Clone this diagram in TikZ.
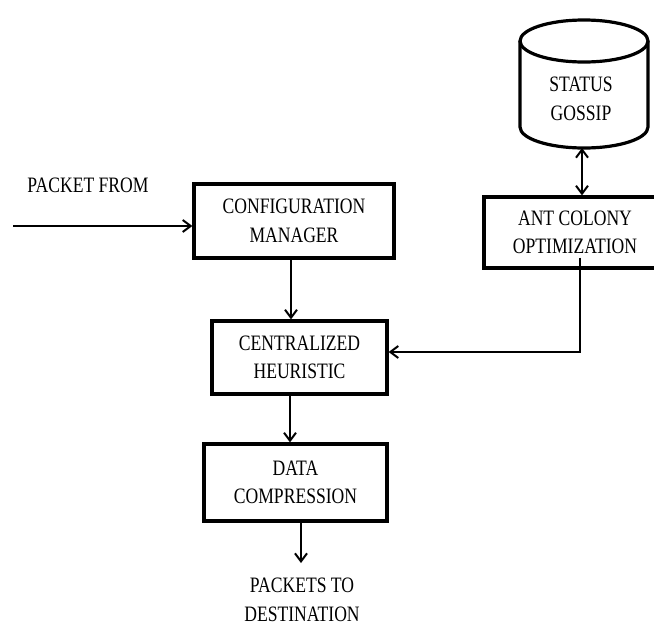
\documentclass[tikz,border=0pt]{standalone}
\usepackage{fontspec}
\setmainfont[FakeStretch=0.8]{Liberation Serif}
\usetikzlibrary{arrows.meta}

\tikzset{
  block/.style={draw, line width=3.2pt, align=center, inner sep=0pt},
  store/.style={line width=3.2pt},
  flow/.style={line width=2pt, ->}
}

\begin{document}
\begin{tikzpicture}[x=1pt, y=-1pt, >={Straight Barb[length=8pt,width=12pt]}, font=\fontsize{22}{28.5}\selectfont]
    \useasboundingbox (0,0) rectangle (654,627);
    \clip (0,0) rectangle (654,627);
    % boxes
    \node[block, minimum width=200pt, minimum height=74pt] (cfg) at (294,221) {CONFIGURATION\\MANAGER};
    \node[block, minimum width=175pt, minimum height=73pt] (heur) at (299.5,357.5) {CENTRALIZED\\HEURISTIC};
    \node[block, minimum width=183pt, minimum height=77pt] (comp) at (295.5,482.5) {DATA\\COMPRESSION};
    \node[block, minimum width=182pt, minimum height=71pt] (aco) at (575,232.5) {ANT COLONY\\OPTIMIZATION};
    % database
    \draw[store] (520,41) -- (520,127) arc[start angle=180, end angle=0, x radius=64, y radius=21] -- (648,41);
    \draw[store] (584,41) ellipse[x radius=64, y radius=21];
    \coordinate (gossip) at (582,148);
    % texts
    \node[align=center] (gossiplbl) at (581,99) {STATUS\\GOSSIP};
    \node (pin) at (88,185) {PACKET FROM};
    \node[align=center] (pout) at (302,600) {PACKETS TO\\DESTINATION};
    \coordinate (src) at (13,226);
    \coordinate (dst) at (301,563);
    % connectors
    \draw[flow] (src) -- (src -| cfg.west);
    \draw[flow] ([xshift=-3pt]cfg.south) -- ([xshift=-3pt]cfg.south |- heur.north);
    \draw[flow] ([xshift=-9.5pt]heur.south) -- ([xshift=-9.5pt]heur.south |- comp.north);
    \draw[flow] (comp.south -| dst) -- (dst);
    \draw[flow, <->] (gossip) -- (gossip |- aco.north);
    \draw[flow] ([xshift=5pt,yshift=12pt]aco.south) |- ([yshift=5.5pt]heur.east);
\end{tikzpicture}
\end{document}
